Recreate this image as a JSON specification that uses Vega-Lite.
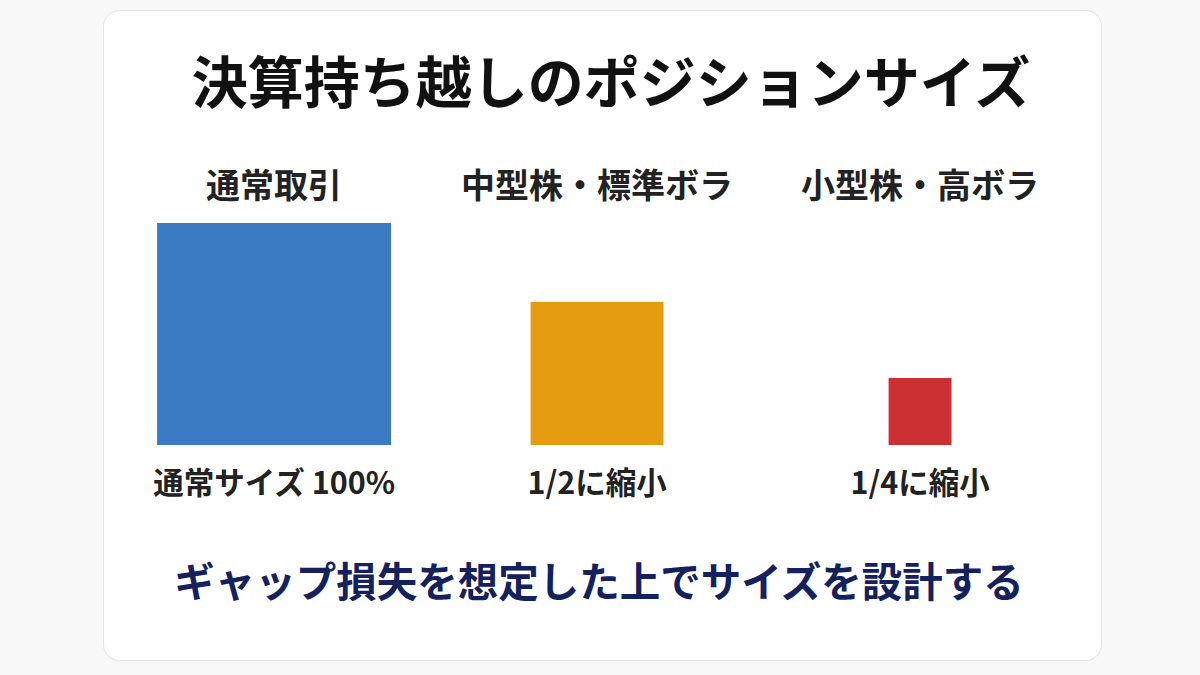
{
  "$schema": "https://vega.github.io/schema/vega-lite/v6.json",
  "width": 998,
  "height": 650,
  "autosize": {"type": "none"},
  "padding": {"left": 103, "top": 10, "right": 99, "bottom": 15},
  "background": "#f8f8f8",
  "config": {
    "view": {"fill": "#ffffff", "cornerRadius": 16, "stroke": "#e3e3e3", "strokeWidth": 1},
    "font": "Noto Sans CJK JP"
  },
  "datasets": {
    "groups": [
      {"cat": "通常取引", "sizeLabel": "通常サイズ 100%", "w": 100, "h": 100},
      {"cat": "中型株・標準ボラ", "sizeLabel": "1/2に縮小", "w": 56.8, "h": 64.4},
      {"cat": "小型株・高ボラ", "sizeLabel": "1/4に縮小", "w": 26.9, "h": 30.2}
    ],
    "headline": [{"t": "決算持ち越しのポジションサイズ"}],
    "footer": [{"t": "ギャップ損失を想定した上でサイズを設計する"}]
  },
  "resolve": {"scale": {"x": "shared", "y": "shared"}},
  "layer": [
    {
      "data": {"name": "groups"},
      "mark": {"type": "bar"},
      "encoding": {
        "x": {"field": "cat", "type": "nominal", "sort": null, "axis": null, "scale": {"type": "band", "paddingInner": 0, "paddingOuter": 0.0449, "align": 0.33}},
        "y": {"field": "h", "type": "quantitative", "axis": null, "scale": {"domain": [-96.8, 195.9], "zero": false, "nice": false}},
        "y2": {"datum": 0},
        "size": {"field": "w", "type": "quantitative", "legend": null, "scale": {"type": "linear", "domain": [0, 100], "range": [0, 234], "zero": true}},
        "color": {
          "field": "cat",
          "type": "nominal",
          "legend": null,
          "scale": {"domain": ["通常取引", "中型株・標準ボラ", "小型株・高ボラ"], "range": ["#3a7bc4", "#e69c10", "#cc3033"]}
        }
      }
    },
    {
      "data": {"name": "groups"},
      "mark": {"type": "text", "fontSize": 34, "fontWeight": "bold", "color": "#222222", "baseline": "middle", "align": "center"},
      "encoding": {
        "x": {"field": "cat", "type": "nominal", "sort": null, "axis": null},
        "y": {"datum": 115.8},
        "text": {"field": "cat"}
      }
    },
    {
      "data": {"name": "groups"},
      "mark": {"type": "text", "fontSize": 30.5, "fontWeight": "bold", "color": "#222222", "baseline": "middle", "align": "center"},
      "encoding": {
        "x": {"field": "cat", "type": "nominal", "sort": null, "axis": null},
        "y": {"datum": -18},
        "text": {"field": "sizeLabel"}
      }
    },
    {
      "data": {"name": "headline"},
      "mark": {"type": "text", "fontSize": 56, "fontWeight": "bold", "color": "#111111", "baseline": "middle", "align": "center", "dx": 9},
      "encoding": {
        "y": {"datum": 161.5},
        "text": {"field": "t"}
      }
    },
    {
      "data": {"name": "footer"},
      "mark": {"type": "text", "fontSize": 40.5, "fontWeight": "bold", "color": "#14215c", "baseline": "middle", "align": "center", "dx": -3},
      "encoding": {
        "y": {"datum": -63.1},
        "text": {"field": "t"}
      }
    }
  ]
}
